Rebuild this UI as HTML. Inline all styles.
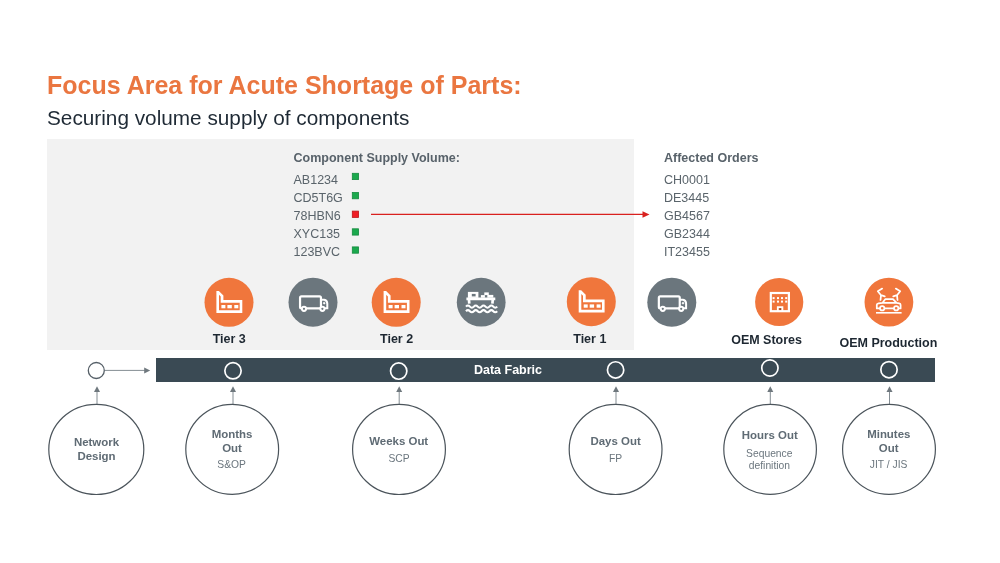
<!DOCTYPE html>
<html lang="en">
<head>
<meta charset="utf-8">
<title>Focus Area for Acute Shortage of Parts</title>
<style>
  html, body { margin: 0; padding: 0; background: #ffffff; }
  body { width: 1000px; height: 563px; overflow: hidden; position: relative;
         font-family: "Liberation Sans", sans-serif; }
  svg { position: absolute; left: 0; top: 0; display: block; }
  svg text { font-family: "Liberation Sans", sans-serif; }
  .title { font-size: 25px; font-weight: bold; fill: #ea7640; }
  .sub { font-size: 20.78px; fill: #1f2a35; }
  .hd { font-size: 12.5px; font-weight: bold; fill: #58626a; }
  .li { font-size: 12.5px; fill: #5a646b; }
  .tier { font-size: 12.5px; font-weight: bold; fill: #1d2731; text-anchor: middle; }
  .fab { font-size: 12.5px; font-weight: bold; fill: #ffffff; text-anchor: middle; }
  .cb { font-size: 11.46px; font-weight: bold; fill: #5f6b74; text-anchor: middle; }
  .cr { font-size: 10.3px; fill: #6b767e; text-anchor: middle; }
</style>
</head>
<body>
<svg width="1000" height="563" viewBox="0 0 1000 563">
  <!-- grey focus panel -->
  <rect x="47" y="139" width="587" height="211" fill="#f2f2f2"/>

  <!-- headings -->
  <text class="title" x="47" y="94">Focus Area for Acute Shortage of Parts:</text>
  <text class="sub" x="47" y="124.7">Securing volume supply of components</text>

  <!-- component supply list -->
  <text class="hd" x="293.5" y="161.5">Component Supply Volume:</text>
  <text class="li" x="293.5" y="184.15">AB1234</text>
  <text class="li" x="293.5" y="202.15">CD5T6G</text>
  <text class="li" x="293.5" y="220.15">78HBN6</text>
  <text class="li" x="293.5" y="238.2">XYC135</text>
  <text class="li" x="293.5" y="256.3">123BVC</text>
  <g stroke-width="0.8">
    <rect x="352.3" y="173.3" width="6.3" height="6.3" fill="#1ba94d" stroke="#168a40"/>
    <rect x="352.3" y="192.5" width="6.3" height="6.3" fill="#1ba94d" stroke="#168a40"/>
    <rect x="352.3" y="211.1" width="6.3" height="6.3" fill="#f01d25" stroke="#bd151b"/>
    <rect x="352.3" y="228.8" width="6.3" height="6.3" fill="#1ba94d" stroke="#168a40"/>
    <rect x="352.3" y="246.9" width="6.3" height="6.3" fill="#1ba94d" stroke="#168a40"/>
  </g>
  <!-- red arrow -->
  <line x1="371" y1="214.4" x2="644" y2="214.4" stroke="#d9211f" stroke-width="1.2"/>
  <path d="M649.5 214.5 L642.5 211.3 L642.5 217.7 Z" fill="#d9211f"/>

  <!-- affected orders -->
  <text class="hd" x="664" y="161.5">Affected Orders</text>
  <text class="li" x="664" y="184.15">CH0001</text>
  <text class="li" x="664" y="202.15">DE3445</text>
  <text class="li" x="664" y="220.15">GB4567</text>
  <text class="li" x="664" y="238.2">GB2344</text>
  <text class="li" x="664" y="256.3">IT23455</text>

  <!-- icon circles -->
  <defs>
    <g id="factory" fill="#ffffff" stroke="none">
      <path fill-rule="evenodd" d="M-12.6 -11.4 L-10.1 -11.4 L-5.6 -6.9 L-5.6 -2.2 L13.3 -2.2 L13.3 10.7 L-12.6 10.7 Z M-10 -7.6 L-8.3 -5.9 L-8.3 0.5 L10.7 0.5 L10.7 8 L-10 8 Z"/>
      <rect x="-7.6" y="2.7" width="4" height="3.3"/>
      <rect x="-1.6" y="2.7" width="4.4" height="3.3"/>
      <rect x="5.3" y="2.7" width="4" height="3.3"/>
    </g>
    <g id="truck" fill="none" stroke="#ffffff">
      <rect x="-12.95" y="-5.9" width="20.9" height="12" rx="1.4" stroke-width="2.2"/>
      <path d="M8 -2.5 H11.2 Q14.2 -2 14.3 1.4 V6 H8" stroke-width="2"/>
      <circle cx="-9" cy="6.6" r="2.1" fill="#6b767d" stroke-width="2"/>
      <circle cx="9.4" cy="6.6" r="2.1" fill="#6b767d" stroke-width="2"/>
      <circle cx="11.2" cy="1" r="0.9" fill="#ffffff" stroke-width="0.6"/>
    </g>
  </defs>
  <g id="icons">
    <circle cx="229" cy="302.3" r="24.5" fill="#f0763c"/>
    <use href="#factory" x="229" y="302.3"/>
    <circle cx="313" cy="302.2" r="24.5" fill="#6b767d"/>
    <use href="#truck" x="313" y="302.2"/>
    <circle cx="396.2" cy="302.3" r="24.5" fill="#f0763c"/>
    <use href="#factory" x="396.2" y="302.3"/>
    <circle cx="481.2" cy="302.2" r="24.4" fill="#6b767d"/>
    <!-- ship -->
    <g>
      <path d="M466.4 298.9 H495.3 M468.9 299 L469.3 303.7 M492.8 299 L492.4 303.7" fill="none" stroke="#ffffff" stroke-width="2.7"/>
      <rect x="467.9" y="291.9" width="10.5" height="6" fill="#ffffff"/>
      <rect x="471.8" y="293.9" width="3.8" height="2.5" fill="#6b767d"/>
      <rect x="480.9" y="295.1" width="4" height="2.6" fill="#ffffff"/>
      <rect x="484.3" y="292.4" width="4.5" height="2.7" fill="#ffffff"/>
      <rect x="487.3" y="294.9" width="6" height="2.8" fill="#ffffff"/>
      <path d="M466 306.6 q1.95 -2.2 3.9 0 t3.9 0 t3.9 0 t3.9 0 t3.9 0 t3.9 0 t3.9 0 t3.9 0" fill="none" stroke="#ffffff" stroke-width="2.1"/>
      <path d="M466 311.2 q1.95 -2.2 3.9 0 t3.9 0 t3.9 0 t3.9 0 t3.9 0 t3.9 0 t3.9 0 t3.9 0" fill="none" stroke="#ffffff" stroke-width="2.1"/>
    </g>
    <circle cx="591.3" cy="301.7" r="24.5" fill="#f0763c"/>
    <use href="#factory" x="591.3" y="301.7"/>
    <circle cx="671.8" cy="302.2" r="24.5" fill="#6b767d"/>
    <use href="#truck" x="671.8" y="302.2"/>
    <circle cx="779.2" cy="302" r="24.1" fill="#f0763c"/>
    <!-- building -->
    <g>
      <rect x="770.8" y="293" width="18.1" height="18.2" fill="none" stroke="#ffffff" stroke-width="2.2"/>
      <g fill="#ffffff">
        <rect x="772.6" y="297.1" width="2" height="2"/><rect x="777" y="297.1" width="2" height="2"/><rect x="781" y="297.1" width="2" height="2"/><rect x="785.2" y="297.1" width="2" height="2"/>
        <rect x="772.6" y="300.6" width="2" height="2"/><rect x="777" y="300.6" width="2" height="2"/><rect x="781" y="300.6" width="2" height="2"/><rect x="785.2" y="300.6" width="2" height="2"/>
      </g>
      <path d="M777.8 311 V307.2 H782.4 V311" fill="none" stroke="#ffffff" stroke-width="1.8"/>
      <rect x="779.5" y="308.4" width="1.4" height="1.4" fill="#5a3a30"/>
    </g>
    <circle cx="888.9" cy="302.1" r="24.4" fill="#f0763c"/>
    <!-- car + robot arms -->
    <g fill="none" stroke="#ffffff" stroke-width="1.75" stroke-linecap="round" stroke-linejoin="round">
      <path d="M882.2 288.6 L877.8 291.3 L881 295.2 L884.8 296.3 M881 295.2 L880.5 300"/>
      <path d="M895.8 288.6 L900.2 291.3 L897 295.2 L893.2 296.3 M897 295.2 L897.5 300"/>
      <path d="M879.6 308.4 H876.8 V304.8 Q876.9 303.5 878.6 303.3 L882.6 302.8 L885.2 299.2 H893 L896.6 302.8 L899.2 303.3 Q900.6 303.6 900.6 305 V308.4 H898.8 M884.8 308.4 H893.6 M883.4 302.8 H896"/>
      <circle cx="882.2" cy="308.3" r="2.2" fill="#f0763c"/>
      <circle cx="896.2" cy="308.3" r="2.2" fill="#f0763c"/>
      <path d="M876 312.8 H901.6" stroke-width="1.6" stroke-linecap="butt"/>
    </g>
  </g>

  <!-- tier labels -->
  <text class="tier" x="229.2" y="343">Tier 3</text>
  <text class="tier" x="396.6" y="343">Tier 2</text>
  <text class="tier" x="589.8" y="342.6">Tier 1</text>
  <text class="tier" x="766.6" y="344.4">OEM Stores</text>
  <text class="tier" x="888.4" y="346.9">OEM Production</text>

  <!-- data fabric bar -->
  <rect x="156" y="358" width="779" height="24" fill="#3a4a54"/>
  <text class="fab" x="508" y="374.2">Data Fabric</text>

  <!-- rings -->
  <g fill="none" stroke="#ffffff" stroke-width="1.7">
    <circle cx="233" cy="370.8" r="8.15"/>
    <circle cx="398.7" cy="371.1" r="8.15"/>
    <circle cx="615.6" cy="369.9" r="8.15"/>
    <circle cx="769.9" cy="368" r="8.15"/>
    <circle cx="889" cy="369.7" r="8.15"/>
  </g>
  <circle cx="96.3" cy="370.5" r="8" fill="#ffffff" stroke="#555f67" stroke-width="1.3"/>
  <!-- horizontal arrow -->
  <path d="M105 370.4 H145" fill="none" stroke="#848d93" stroke-width="1"/>
  <path d="M150.2 370.4 L144.2 367.4 L144.2 373.4 Z" fill="#6f787e"/>

  <!-- vertical arrows -->
  <g>
    <path d="M97 404 V391.2" fill="none" stroke="#848d93" stroke-width="1"/><path d="M97 386.2 L94 392.0 L100 392.0 Z" fill="#6f787e"/>
    <path d="M233 404 V391.2" fill="none" stroke="#848d93" stroke-width="1"/><path d="M233 386.2 L230 392.0 L236 392.0 Z" fill="#6f787e"/>
    <path d="M399.2 404 V391.2" fill="none" stroke="#848d93" stroke-width="1"/><path d="M399.2 386.2 L396.2 392.0 L402.2 392.0 Z" fill="#6f787e"/>
    <path d="M616 404 V391.2" fill="none" stroke="#848d93" stroke-width="1"/><path d="M616 386.2 L613 392.0 L619 392.0 Z" fill="#6f787e"/>
    <path d="M770.3 404 V391.2" fill="none" stroke="#848d93" stroke-width="1"/><path d="M770.3 386.2 L767.3 392.0 L773.3 392.0 Z" fill="#6f787e"/>
    <path d="M889.5 404 V391.2" fill="none" stroke="#848d93" stroke-width="1"/><path d="M889.5 386.2 L886.5 392.0 L892.5 392.0 Z" fill="#6f787e"/>
  </g>

  <!-- big circles -->
  <g fill="#ffffff" stroke="#4b545b" stroke-width="1.2">
    <ellipse cx="96.3" cy="449.4" rx="47.5" ry="45.1"/>
    <ellipse cx="232.2" cy="449.3" rx="46.4" ry="45"/>
    <ellipse cx="399" cy="449.4" rx="46.4" ry="45.1"/>
    <ellipse cx="615.6" cy="449.4" rx="46.4" ry="45.1"/>
    <ellipse cx="770.1" cy="449.3" rx="46.3" ry="45"/>
    <ellipse cx="889" cy="449.3" rx="46.4" ry="45"/>
  </g>

  <!-- circle text -->
  <text class="cb" x="96.5" y="445.7">Network</text>
  <text class="cb" x="96.5" y="460">Design</text>

  <text class="cb" x="232" y="437.6">Months</text>
  <text class="cb" x="232" y="452">Out</text>
  <text class="cr" x="231.6" y="468.1">S&amp;OP</text>

  <text class="cb" x="398.7" y="445">Weeks Out</text>
  <text class="cr" x="399" y="462.2">SCP</text>

  <text class="cb" x="615.6" y="445">Days Out</text>
  <text class="cr" x="615.5" y="462.4">FP</text>

  <text class="cb" x="769.8" y="438.7">Hours Out</text>
  <text class="cr" x="769.3" y="456.6">Sequence</text>
  <text class="cr" x="769.4" y="468.5">definition</text>

  <text class="cb" x="888.8" y="437.7">Minutes</text>
  <text class="cb" x="888.6" y="451.6">Out</text>
  <text class="cr" x="888.6" y="468.3">JIT / JIS</text>
</svg>
</body>
</html>
